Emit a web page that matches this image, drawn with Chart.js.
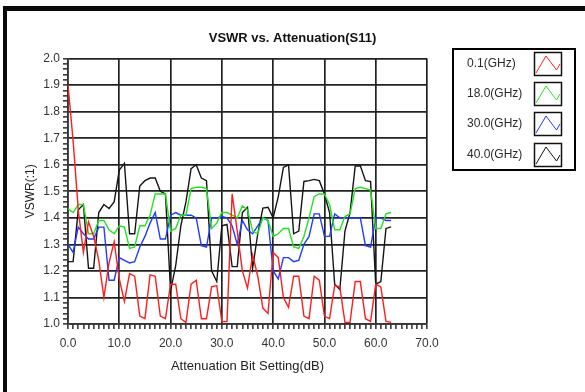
<!DOCTYPE html>
<html>
<head>
<meta charset="utf-8">
<script src="https://cdn.jsdelivr.net/npm/chart.js@4/dist/chart.umd.min.js"></script>
<style>
html,body{margin:0;padding:0;background:#fff;}
#wrap{width:585px;height:392px;position:relative;}
</style>
</head>
<body>
<div id="wrap"><canvas id="c" width="585" height="392"></canvas></div>
<script>
// ---- data ----
const attenuation = [0,1,2,3,4,5,6,7,8,9,10,11,12,13,14,15,16,17,18,19,20,21,22,23,24,25,26,27,28,29,30,31,32,33,34,35,36,37,38,39,40,41,42,43,44,45,46,47,48,49,50,51,52,53,54,55,56,57,58,59,60,61,62,63];
const vswr01 = [1.90,1.69,1.43,1.27,1.385,1.33,1.24,1.10,1.23,1.31,1.17,1.085,1.19,1.18,1.03,1.02,1.185,1.18,1.03,1.02,1.15,1.15,1.02,1.006,1.15,1.165,1.02,1.02,1.14,1.145,1.009,1.009,1.49,1.35,1.20,1.135,1.26,1.18,1.06,1.04,1.27,1.25,1.10,1.063,1.18,1.18,1.03,1.02,1.18,1.165,1.03,1.02,1.145,1.14,1.006,1.006,1.16,1.16,1.02,1.01,1.15,1.14,1.01,1.006];
const vswr18 = [1.434,1.42,1.45,1.45,1.34,1.34,1.39,1.39,1.355,1.34,1.37,1.365,1.285,1.29,1.37,1.37,1.41,1.49,1.49,1.49,1.35,1.36,1.41,1.41,1.51,1.515,1.515,1.51,1.36,1.38,1.42,1.42,1.41,1.40,1.445,1.43,1.35,1.34,1.40,1.39,1.33,1.34,1.36,1.36,1.29,1.285,1.33,1.40,1.48,1.49,1.49,1.45,1.355,1.355,1.405,1.415,1.51,1.515,1.51,1.505,1.36,1.36,1.415,1.42];
const vswr30 = [1.30,1.27,1.365,1.34,1.32,1.32,1.365,1.365,1.165,1.165,1.25,1.24,1.23,1.235,1.29,1.33,1.38,1.42,1.32,1.32,1.41,1.42,1.41,1.41,1.41,1.40,1.295,1.29,1.40,1.40,1.405,1.40,1.37,1.30,1.39,1.355,1.34,1.37,1.40,1.39,1.20,1.17,1.25,1.25,1.235,1.24,1.30,1.33,1.415,1.415,1.33,1.33,1.415,1.40,1.40,1.40,1.40,1.40,1.295,1.29,1.40,1.40,1.39,1.39];
const vswr40 = [1.235,1.235,1.43,1.45,1.21,1.21,1.42,1.45,1.435,1.46,1.58,1.605,1.34,1.34,1.52,1.54,1.55,1.55,1.50,1.49,1.125,1.22,1.37,1.46,1.585,1.60,1.55,1.54,1.20,1.16,1.37,1.375,1.216,1.216,1.42,1.44,1.21,1.34,1.437,1.44,1.40,1.48,1.59,1.60,1.34,1.35,1.537,1.54,1.545,1.54,1.49,1.42,1.15,1.13,1.35,1.42,1.595,1.596,1.54,1.537,1.15,1.16,1.36,1.366];
const seriesLabels = ['0.1(GHz)','18.0(GHz)','30.0(GHz)','40.0(GHz)'];
const xTickLabels = ['0.0','10.0','20.0','30.0','40.0','50.0','60.0','70.0'];
const yTickLabels = ['1.0','1.1','1.2','1.3','1.4','1.5','1.6','1.7','1.8','1.9','2.0'];

// ---- styles ----
const colors = ['#ff1c1c','#22e022','#1f3cff','#141414'];
function hasFont(name){
  const c=document.createElement('canvas').getContext('2d');
  c.font='20px monospace'; const a=c.measureText('abcdefghijWWmm').width;
  c.font='20px "'+name+'", monospace'; const b=c.measureText('abcdefghijWWmm').width;
  return a!==b;
}
const titleFont = hasFont('Liberation Sans Narrow')
  ? {family:'"Liberation Sans Narrow"', size:15, weight:'bold', lineHeight:1.2}
  : {family:'"Liberation Sans"', size:13, weight:'bold', lineHeight:1.2};
Chart.defaults.font.family = '"Liberation Sans", Arial, sans-serif';

function toPoints(vals){ return attenuation.map((a,i)=>({x:a,y:vals[i]})); }
const allSeries = [vswr01, vswr18, vswr30, vswr40];

const framePlugin = {
  id:'frame',
  beforeDraw(chart){
    const ctx=chart.ctx;
    ctx.save();
    ctx.fillStyle='#fff'; ctx.fillRect(0,0,chart.width,chart.height);
    ctx.fillStyle='#0a0a0a';
    ctx.fillRect(3,6,chart.width-3,5);
    ctx.fillRect(3,6,4,chart.height-6);
    ctx.restore();
  }
};
const legendRowTops=[52,82,112,143];
const boxLegend = {
  id:'boxLegend',
  afterDraw(chart){
    const ctx=chart.ctx;
    ctx.save();
    ctx.lineWidth=2; ctx.strokeStyle='#000';
    ctx.strokeRect(453,49,122,121);
    chart.data.datasets.forEach((ds,k)=>{
      const t=legendRowTops[k];
      ctx.fillStyle='#2a2a2a';
      ctx.font='12px "Liberation Sans", Arial, sans-serif';
      ctx.textAlign='left'; ctx.textBaseline='middle';
      ctx.fillText(ds.label,467,t+12);
      ctx.lineWidth=1.5; ctx.strokeStyle='#111';
      ctx.strokeRect(534.5,t+0.5,27,23);
      ctx.lineWidth=1; ctx.strokeStyle=ds.borderColor;
      ctx.beginPath();
      ctx.moveTo(536,t+21); ctx.lineTo(546,t+4); ctx.lineTo(556.5,t+18); ctx.lineTo(560,t+12);
      ctx.stroke();
    });
    ctx.restore();
  }
};

const gridColor = (isMajor)=>(ctx)=> (ctx.tick && isMajor(ctx.tick.value)) ? '#222' : 'rgba(0,0,0,0)';
const xMajor = v => Math.round(v)%10===0;
const yMajor = v => Math.round(v*100)%10===0;

new Chart(document.getElementById('c'),{
  type:'line',
  data:{
    datasets: allSeries.map((vals,k)=>({
      label:seriesLabels[k],
      data:toPoints(vals),
      borderColor:colors[k],
      backgroundColor:colors[k],
      borderWidth:1.4,
      pointRadius:0,
      tension:0,
      fill:false
    }))
  },
  options:{
    responsive:false,
    animation:false,
    devicePixelRatio:1,
    layout:{padding:0},
    plugins:{
      legend:{display:false},
      tooltip:{enabled:false},
      title:{display:true,text:'VSWR vs. Attenuation(S11)',color:'#111',font:titleFont,padding:{top:31,bottom:12}}
    },
    scales:{
      x:{
        type:'linear',min:0,max:70,position:'bottom',
        ticks:{stepSize:1,autoSkip:false,maxRotation:0,minRotation:0,padding:7,color:'#333',font:{size:12},
          callback:(v)=> xMajor(v) ? xTickLabels[Math.round(v)/10] : ''},
        grid:{color:gridColor(xMajor),tickColor:'#444',lineWidth:1.7,tickLength:5,drawTicks:true},
        border:{display:true,color:'#333',width:1.5},
        title:{display:true,text:'Attenuation Bit Setting(dB)',color:'#222',font:{size:13},padding:{top:4,bottom:18}},
        afterFit:(s)=>{s.height=68;}
      },
      y:{
        type:'linear',min:1.0,max:2.0,position:'left',
        ticks:{stepSize:0.02,autoSkip:false,padding:3,color:'#333',font:{size:12},
          callback:(v)=>{const k=Math.round(v*100);return k%10===0 ? yTickLabels[(k-100)/10] : '';}},
        grid:{color:gridColor(yMajor),tickColor:'#444',lineWidth:1.7,tickLength:5,drawTicks:true},
        border:{display:true,color:'#333',width:1.5},
        title:{display:true,text:'VSWR(:1)',color:'#222',font:{size:12},padding:{top:23,bottom:0}},
        afterFit:(s)=>{s.width=68;}
      },
      yr:{
        type:'linear',position:'right',display:true,
        grid:{display:false,drawTicks:false},
        ticks:{display:false},
        border:{display:false},
        afterFit:(s)=>{s.width=158;}
      }
    }
  },
  plugins:[framePlugin,boxLegend]
});
</script>
</body>
</html>
